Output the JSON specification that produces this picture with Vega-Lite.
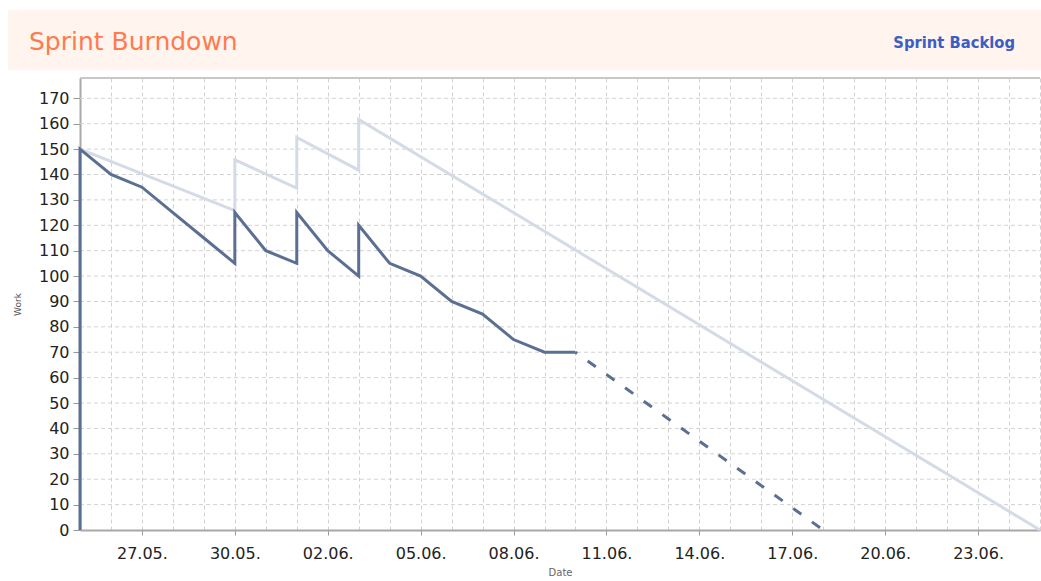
{
  "$schema": "https://vega.github.io/schema/vega-lite/v6.json",
  "padding": {"top": 10, "left": 8, "right": 0, "bottom": 0},
  "background": "white",
  "spacing": 8,
  "bounds": "flush",
  "config": {"font": "DejaVu Sans"},
  "title": {"text": "Sprint Backlog", "anchor": "end", "frame": "bounds", "orient": "top", "offset": -54, "dx": -31, "baseline": "alphabetic", "font": "DejaVu Sans Condensed", "fontSize": 16.4, "fontWeight": "bold", "color": "#3c5dc4"},
  "datasets": {
    "burndown": [
      {"series": "actual", "date": "2008-05-25T00:00", "work": 0},
      {"series": "actual", "date": "2008-05-25T00:00", "work": 150},
      {"series": "actual", "date": "2008-05-26T00:00", "work": 140},
      {"series": "actual", "date": "2008-05-27T00:00", "work": 135},
      {"series": "actual", "date": "2008-05-28T00:00", "work": 125},
      {"series": "actual", "date": "2008-05-29T00:00", "work": 115},
      {"series": "actual", "date": "2008-05-30T00:00", "work": 105},
      {"series": "actual", "date": "2008-05-30T00:00", "work": 125},
      {"series": "actual", "date": "2008-05-31T00:00", "work": 110},
      {"series": "actual", "date": "2008-06-01T00:00", "work": 105},
      {"series": "actual", "date": "2008-06-01T00:00", "work": 125},
      {"series": "actual", "date": "2008-06-02T00:00", "work": 110},
      {"series": "actual", "date": "2008-06-03T00:00", "work": 100},
      {"series": "actual", "date": "2008-06-03T00:00", "work": 120},
      {"series": "actual", "date": "2008-06-04T00:00", "work": 105},
      {"series": "actual", "date": "2008-06-05T00:00", "work": 100},
      {"series": "actual", "date": "2008-06-06T00:00", "work": 90},
      {"series": "actual", "date": "2008-06-07T00:00", "work": 85},
      {"series": "actual", "date": "2008-06-08T00:00", "work": 75},
      {"series": "actual", "date": "2008-06-09T00:00", "work": 70},
      {"series": "actual", "date": "2008-06-10T00:00", "work": 70},
      {"series": "ideal", "date": "2008-05-25T00:00", "work": 150},
      {"series": "ideal", "date": "2008-05-30T00:00", "work": 125.8},
      {"series": "ideal", "date": "2008-05-30T00:00", "work": 145.8},
      {"series": "ideal", "date": "2008-06-01T00:00", "work": 134.6},
      {"series": "ideal", "date": "2008-06-01T00:00", "work": 154.6},
      {"series": "ideal", "date": "2008-06-03T00:00", "work": 141.7},
      {"series": "ideal", "date": "2008-06-03T00:00", "work": 161.7},
      {"series": "ideal", "date": "2008-06-25T00:00", "work": 0},
      {"series": "forecast", "date": "2008-06-10T00:00", "work": 70},
      {"series": "forecast", "date": "2008-06-18T00:00", "work": 0}
    ],
    "gridlines": [
      {"work": 10}, {"work": 20}, {"work": 30}, {"work": 40}, {"work": 50}, {"work": 60},
      {"work": 70}, {"work": 80}, {"work": 90}, {"work": 100}, {"work": 110}, {"work": 120},
      {"work": 130}, {"work": 140}, {"work": 150}, {"work": 160}, {"work": 170}
    ],
    "frame": [{"work": 178}]
  },
  "vconcat": [
    {
      "width": 1033,
      "height": 60,
      "view": {"fill": "#fff4ee", "stroke": null},
      "title": {"text": "Sprint Burndown", "anchor": "start", "frame": "group", "orient": "top", "offset": -65, "dx": 21, "baseline": "alphabetic", "font": "DejaVu Sans", "fontSize": 25, "fontWeight": "normal", "color": "#ff7a4d"},
      "mark": {"type": "text"},
      "encoding": {"text": {"value": ""}}
    },
    {
      "width": 1033,
      "height": 452,
      "view": {"stroke": null},
      "encoding": {
        "y": {
          "field": "work", "type": "quantitative",
          "scale": {"domain": [0, 178], "nice": false},
          "axis": {
            "offset": -72,
            "title": "Work", "titleFontSize": 9, "titleFontWeight": "normal", "titleColor": "#555555", "titlePadding": 16,
            "values": [0, 10, 20, 30, 40, 50, 60, 70, 80, 90, 100, 110, 120, 130, 140, 150, 160, 170],
            "labelOverlap": false,
            "labelFontSize": 16, "labelColor": "#222222", "labelPadding": 4,
            "tickSize": 7, "tickColor": "#999999",
            "grid": false,
            "domainColor": "#a8a8a8", "domainWidth": 2
          }
        }
      },
      "layer": [
        {
          "data": {"name": "gridlines"},
          "mark": {"type": "rule", "color": "#d2d2d2", "strokeWidth": 1, "strokeDash": [4, 3]},
          "encoding": {
            "x": {"datum": {"year": 2008, "month": 5, "date": 25}, "type": "temporal"},
            "x2": {"datum": {"year": 2008, "month": 6, "date": 25}}
          }
        },
        {
          "data": {"name": "frame"},
          "mark": {"type": "rule", "color": "#c8c8c8", "strokeWidth": 2},
          "encoding": {
            "x": {"datum": {"year": 2008, "month": 5, "date": 25}, "type": "temporal"},
            "x2": {"datum": {"year": 2008, "month": 6, "date": 25}}
          }
        },
        {
          "data": {"name": "burndown"},
          "transform": [{"filter": "datum.series == 'ideal'"}],
          "mark": {"type": "line", "color": "#d4dbe6", "strokeWidth": 3},
          "encoding": {
            "x": {"field": "date", "type": "temporal"},
            "order": {"value": null}
          }
        },
        {
          "data": {"name": "burndown"},
          "transform": [{"filter": "datum.series == 'forecast'"}],
          "mark": {"type": "line", "color": "#5b6f92", "strokeWidth": 3, "strokeDash": [10, 13], "strokeDashOffset": 8},
          "encoding": {
            "x": {"field": "date", "type": "temporal"},
            "order": {"value": null}
          }
        },
        {
          "data": {"name": "burndown"},
          "transform": [{"filter": "datum.series == 'actual'"}],
          "mark": {"type": "line", "color": "#5b6f92", "strokeWidth": 3},
          "encoding": {
            "x": {
              "field": "date", "type": "temporal",
              "scale": {"domain": [{"year": 2008, "month": 5, "date": 25}, {"year": 2008, "month": 6, "date": 25}], "nice": false, "range": [72, 1032]},
              "axis": {
                "title": "Date", "titleFontSize": 10, "titleFontWeight": "normal", "titleColor": "#666666", "titlePadding": 6,
                "format": "%d.%m.", "tickCount": {"interval": "day", "step": 1},
                "labelExpr": "(round((datum.value - datetime(2008,4,27)) / 86400000) % 3 == 0) ? datum.label : ''",
                "labelOverlap": false, "labelFlush": false, "labelFontSize": 16, "labelColor": "#222222", "labelPadding": 10,
                "tickSize": 5, "tickColor": "#999999",
                "tickOpacity": {"condition": {"test": "round((datum.value - datetime(2008,4,27)) / 86400000) % 3 == 0", "value": 1}, "value": 0},
                "grid": true, "gridDash": [4, 3], "gridColor": "#d2d2d2",
                "domainColor": "#a8a8a8", "domainWidth": 2
              }
            },
            "order": {"value": null}
          }
        }
      ]
    }
  ]
}
